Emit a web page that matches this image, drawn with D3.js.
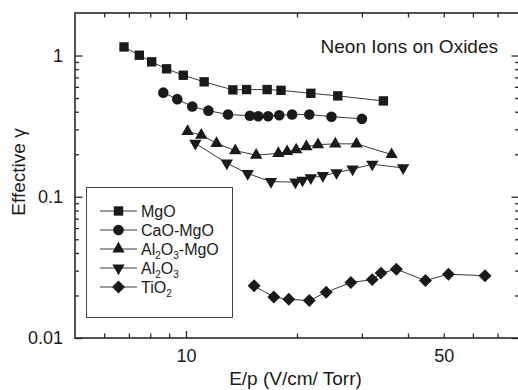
<!DOCTYPE html>
<html>
<head>
<meta charset="utf-8">
<script src="https://cdn.jsdelivr.net/npm/d3@7"></script>
<style>
body { margin: 0; background: #fff; }
svg { display: block; }
text { font-family: "Liberation Sans", Arial, Helvetica, sans-serif; fill: #1a1a1a; }
</style>
</head>
<body>
<div id="chart"></div>
<script>
// values (E/p in V/cm/Torr, effective gamma)
var mgoX = [6.79, 7.47, 8.07, 8.86, 9.83, 11.2, 13.4, 14.6, 16.6, 18.1, 21.8, 25.8, 34.3];
var mgoY = [1.15, 1.005, 0.902, 0.805, 0.725, 0.651, 0.571, 0.574, 0.574, 0.567, 0.540, 0.518, 0.477];
var caoX = [8.68, 9.47, 10.4, 11.5, 13.0, 14.9, 15.7, 16.7, 17.9, 19.4, 21.6, 24.8, 30.0];
var caoY = [0.546, 0.491, 0.435, 0.407, 0.382, 0.375, 0.372, 0.372, 0.378, 0.382, 0.382, 0.369, 0.356];
var alMgoX = [10.1, 11.0, 12.1, 13.6, 15.5, 17.8, 18.8, 19.9, 21.2, 22.8, 25.4, 29.0, 36.1];
var alMgoY = [0.290, 0.273, 0.239, 0.212, 0.197, 0.203, 0.209, 0.215, 0.226, 0.234, 0.237, 0.237, 0.199];
var alX = [10.6, 12.9, 14.7, 17.0, 19.8, 20.7, 21.8, 23.5, 25.6, 28.3, 32.0, 38.8];
var alY = [0.239, 0.173, 0.146, 0.128, 0.127, 0.131, 0.136, 0.141, 0.148, 0.157, 0.170, 0.160];
var tioX = [15.3, 17.3, 19.0, 21.6, 24.0, 28.0, 32.0, 33.8, 37.2, 44.6, 51.5, 64.7];
var tioY = [0.0234, 0.0195, 0.0188, 0.0184, 0.0211, 0.0247, 0.0259, 0.0288, 0.0307, 0.0255, 0.0283, 0.0276];

var seriesNames = ["MgO", "CaO-MgO", "Al2O3-MgO", "Al2O3", "TiO2"];
// legend labels as [text, isSubscript] pieces
var legendLabels = [
    [["MgO", false]],
    [["CaO-MgO", false]],
    [["Al", false], ["2", true], ["O", false], ["3", true], ["-MgO", false]],
    [["Al", false], ["2", true], ["O", false], ["3", true]],
    [["TiO", false], ["2", true]]
];

var xTickLabels = [10, 50];
var xMajorTicks = [10];
var xMinorTicks = [6, 7, 8, 9, 20, 30, 40, 50, 60, 70];
var yTickLabels = [0.01, 0.1, 1];
var yMinorTicks = [0.02, 0.03, 0.04, 0.05, 0.06, 0.07, 0.08, 0.09, 0.2, 0.3, 0.4, 0.5, 0.6, 0.7, 0.8, 0.9];

var title = "Neon Ions on Oxides";
var xTitle = "E/p (V/cm/ Torr)";
var yTitle = "Effective \u03b3";

var width = 518, height = 390;
var plotL = 75, plotR = 519, plotT = 13, plotB = 338;
var ink = "#1a1a1a", axisColor = "#2a2a2a";
var font = "'Liberation Sans', Arial, Helvetica, sans-serif";

var x = d3.scaleLog().domain([5, 80]).range([plotL, plotR]);
var y = d3.scaleLog().domain([0.01, 2]).range([plotB, plotT]);

var svg = d3.select("#chart")
    .append("svg")
    .attr("width", width)
    .attr("height", height);

var xs = [mgoX, caoX, alMgoX, alX, tioX];
var ys = [mgoY, caoY, alMgoY, alY, tioY];
var symbols = [
    {type: d3.symbolSquare, size: 88, rot: 0},
    {type: d3.symbolCircle, size: 88, rot: 0},
    {type: d3.symbolTriangle, size: 66, rot: 0},
    {type: d3.symbolTriangle, size: 66, rot: 180},
    {type: d3.symbolSquare, size: 84, rot: 45}
];

var series = seriesNames.map(function(name, i) {
    return {
        name: name,
        sym: symbols[i],
        points: xs[i].map(function(v, j) { return {x: v, y: ys[i][j]}; })
    };
});

// ticks, all pointing inward
function tickGroup(axis, tx, ty) {
    var g = svg.append("g")
        .attr("transform", "translate(" + tx + "," + ty + ")")
        .call(axis);
    g.select(".domain").remove();
    g.selectAll("line").attr("stroke", axisColor).attr("stroke-width", 1.3);
    return g;
}

tickGroup(d3.axisBottom(x).tickValues(xMinorTicks).tickSize(-4.5).tickFormat(""), 0, plotB);
tickGroup(d3.axisBottom(x).tickValues(xMajorTicks).tickSize(-7).tickFormat(""), 0, plotB);
tickGroup(d3.axisTop(x).tickValues(xMinorTicks).tickSize(-4.5).tickFormat(""), 0, plotT);
tickGroup(d3.axisTop(x).tickValues(xMajorTicks).tickSize(-7).tickFormat(""), 0, plotT);
tickGroup(d3.axisLeft(y).tickValues(yMinorTicks).tickSize(-4).tickFormat(""), plotL, 0);
tickGroup(d3.axisLeft(y).tickValues(yTickLabels).tickSize(-7.5).tickFormat(""), plotL, 0);
tickGroup(d3.axisRight(y).tickValues(yMinorTicks).tickSize(-4).tickFormat(""), plotR, 0);
tickGroup(d3.axisRight(y).tickValues(yTickLabels).tickSize(-7.5).tickFormat(""), plotR, 0);

// tick labels
var xLab = tickGroup(d3.axisBottom(x).tickValues(xTickLabels).tickSize(0).tickPadding(11)
    .tickFormat(d3.format("d")), 0, plotB);
xLab.attr("font-size", 18).attr("font-family", font);
xLab.selectAll("text").attr("fill", ink);

var yLab = tickGroup(d3.axisLeft(y).tickValues(yTickLabels).tickSize(0).tickPadding(12)
    .tickFormat(function(d) { return String(d); }), plotL, 0);
yLab.attr("font-size", 18).attr("font-family", font);
yLab.selectAll("text").attr("fill", ink);

// frame
svg.append("rect")
    .attr("x", plotL)
    .attr("y", plotT)
    .attr("width", plotR - plotL)
    .attr("height", plotB - plotT)
    .attr("fill", "none")
    .attr("stroke", axisColor)
    .attr("stroke-width", 1.6);

// connecting lines
var line = d3.line()
    .x(function(d) { return x(d.x); })
    .y(function(d) { return y(d.y); });

svg.selectAll(".series-line")
    .data(series)
    .enter().append("path")
    .attr("class", "series-line")
    .attr("fill", "none")
    .attr("stroke", "#3a3a3a")
    .attr("stroke-width", 1)
    .attr("d", function(d) { return line(d.points); });

// markers
series.forEach(function(s, i) {
    svg.selectAll(".m" + i)
        .data(s.points)
        .enter().append("path")
        .attr("class", "m" + i)
        .attr("fill", ink)
        .attr("d", d3.symbol().type(s.sym.type).size(s.sym.size))
        .attr("transform", function(d) {
            return "translate(" + x(d.x) + "," + y(d.y) + ") rotate(" + s.sym.rot + ")";
        });
});

// title inside plot
svg.append("text")
    .attr("x", 498)
    .attr("y", 53)
    .attr("text-anchor", "end")
    .attr("font-size", 19)
    .text(title);

// axis titles
svg.append("text")
    .attr("x", (plotL + 516) / 2)
    .attr("y", 385)
    .attr("text-anchor", "middle")
    .attr("font-size", 19)
    .text(xTitle);

svg.append("text")
    .attr("transform", "translate(25,172) rotate(-90)")
    .attr("text-anchor", "middle")
    .attr("font-size", 19)
    .text(yTitle);

// legend
var legend = svg.append("g");
legend.append("rect")
    .attr("x", 86.5)
    .attr("y", 187.5)
    .attr("width", 146)
    .attr("height", 130)
    .attr("fill", "#fff")
    .attr("stroke", "#444")
    .attr("stroke-width", 1);

var rows = legend.selectAll(".row")
    .data(series)
    .enter().append("g")
    .attr("class", "row")
    .attr("transform", function(d, i) { return "translate(0," + (211 + i * 19) + ")"; });

rows.append("line")
    .attr("x1", 100)
    .attr("x2", 137)
    .attr("stroke", "#3a3a3a")
    .attr("stroke-width", 1);

rows.append("path")
    .attr("fill", ink)
    .attr("d", function(d) { return d3.symbol().type(d.sym.type).size(d.sym.size)(); })
    .attr("transform", function(d) { return "translate(118.5,0) rotate(" + d.sym.rot + ")"; });

rows.each(function(d, i) {
    var t = d3.select(this).append("text")
        .attr("x", 141)
        .attr("y", 6)
        .attr("font-size", 16);
    var shifted = false;
    legendLabels[i].forEach(function(p) {
        var span = t.append("tspan").text(p[0]);
        if (p[1] && !shifted) { span.attr("dy", 4).attr("font-size", 10); shifted = true; }
        else if (p[1]) { span.attr("font-size", 10); }
        else if (shifted) { span.attr("dy", -4); shifted = false; }
    });
});
</script>
</body>
</html>
